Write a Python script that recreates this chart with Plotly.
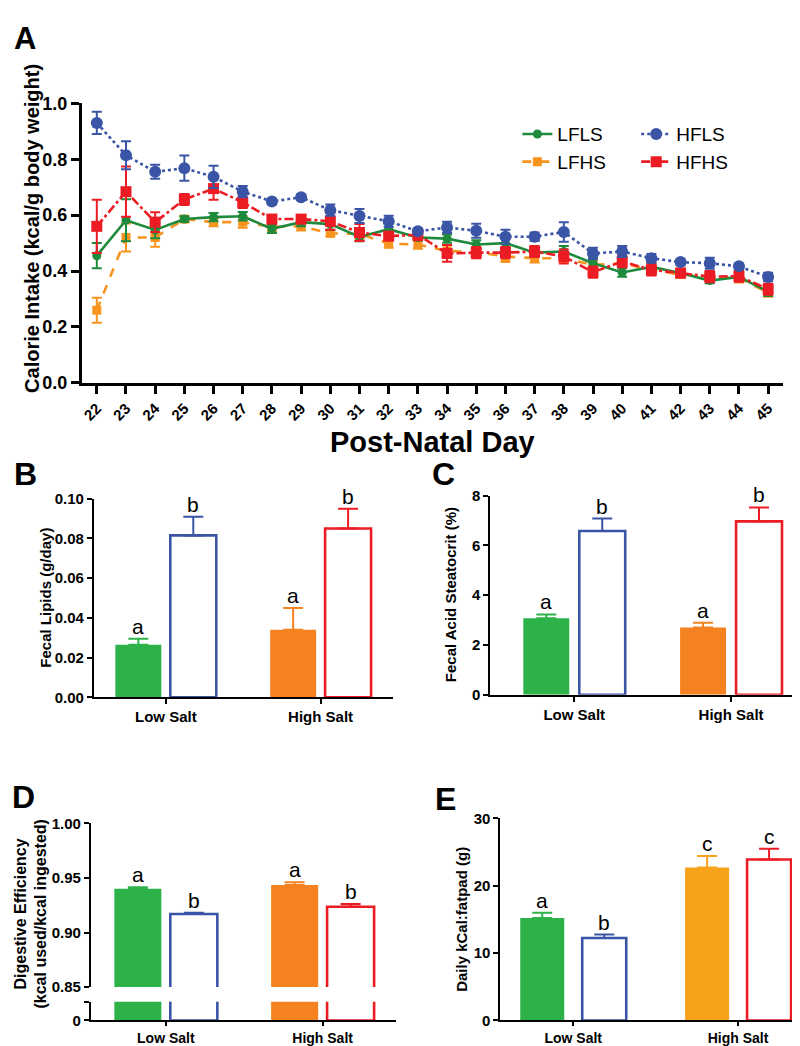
import plotly.graph_objects as go

# ---------------- data ----------------
days = list(range(22, 46))
lfls = [0.455, 0.582, 0.547, 0.586, 0.593, 0.596, 0.551, 0.575, 0.568, 0.522, 0.55, 0.52,
        0.516, 0.495, 0.50, 0.466, 0.47, 0.428, 0.395, 0.415, 0.393, 0.366, 0.379, 0.326]
lfls_err = [0.045, 0.075, 0.03, 0.01, 0.015, 0.015, 0.015, 0.015, 0.02, 0.015, 0.02, 0.01,
            0.015, 0.015, 0.02, 0.015, 0.02, 0.02, 0.015, 0.015, 0.01, 0.01, 0.01, 0.015]
lfhs = [0.26, 0.52, 0.52, 0.586, 0.575, 0.575, 0.558, 0.56, 0.535, 0.533, 0.498, 0.495,
        0.472, 0.468, 0.452, 0.446, 0.446, 0.422, 0.428, 0.404, 0.388, 0.38, 0.374, 0.323]
lfhs_err = [0.045, 0.05, 0.033, 0.01, 0.015, 0.02, 0.015, 0.015, 0.01, 0.02, 0.015, 0.015,
            0.02, 0.015, 0.02, 0.015, 0.015, 0.015, 0.015, 0.015, 0.01, 0.01, 0.015, 0.015]
hfls = [0.93, 0.814, 0.755, 0.768, 0.737, 0.684, 0.649, 0.664, 0.618, 0.597, 0.578, 0.542,
        0.556, 0.544, 0.523, 0.523, 0.54, 0.463, 0.47, 0.446, 0.432, 0.428, 0.417, 0.379]
hfls_err = [0.04, 0.05, 0.025, 0.045, 0.04, 0.02, 0.01, 0.01, 0.02, 0.025, 0.02, 0.01,
            0.02, 0.025, 0.025, 0.015, 0.035, 0.02, 0.02, 0.015, 0.01, 0.02, 0.01, 0.015]
hfhs = [0.56, 0.684, 0.575, 0.656, 0.695, 0.646, 0.586, 0.586, 0.578, 0.538, 0.525, 0.53,
        0.463, 0.466, 0.466, 0.47, 0.452, 0.396, 0.434, 0.404, 0.393, 0.38, 0.382, 0.335]
hfhs_err = [0.095, 0.09, 0.035, 0.02, 0.04, 0.02, 0.015, 0.015, 0.03, 0.03, 0.015, 0.02,
            0.03, 0.02, 0.02, 0.02, 0.025, 0.02, 0.02, 0.02, 0.015, 0.02, 0.02, 0.02]

salt_groups = ["Low Salt", "High Salt"]

# B: fecal lipids (g/day)
lipids_lf = [0.0265, 0.034]
lipids_lf_err = [0.003, 0.011]
lipids_hf = [0.0815, 0.085]
lipids_hf_err = [0.0094, 0.0099]
lipids_lf_sig = ["a", "a"]
lipids_hf_sig = ["b", "b"]

# C: fecal acid steatocrit (%)
steat_lf = [3.08, 2.70]
steat_lf_err = [0.15, 0.2]
steat_hf = [6.58, 6.97]
steat_hf_err = [0.5, 0.56]
steat_lf_sig = ["a", "a"]
steat_hf_sig = ["b", "b"]

# D: digestive efficiency
dig_lf = [0.940, 0.9435]
dig_lf_err = [0.0015, 0.0025]
dig_hf = [0.917, 0.9236]
dig_hf_err = [0.0012, 0.0024]
dig_lf_sig = ["a", "a"]
dig_hf_sig = ["b", "b"]

# E: daily kcal : fatpad (g)
kcal_lf = [15.2, 22.7]
kcal_lf_err = [0.8, 1.7]
kcal_hf = [12.25, 23.9]
kcal_hf_err = [0.5, 1.6]
kcal_lf_sig = ["a", "c"]
kcal_hf_sig = ["b", "c"]

# ---------------- style ----------------
W, H = 800, 1046
FONT = "Liberation Sans, Arial, Helvetica, sans-serif"
GREEN_L = "#1E8A3C"
GREEN_B = "#2DB24A"
ORANGE_L = "#F7941D"
ORANGE_B = "#F58220"
ORANGE_E = "#F8A11B"
BLUE = "#3A55A5"
RED = "#EC1C24"


def px_x(p):
    return p / W


def px_y(p):
    return 1 - p / H


fig = go.Figure()

# ---------------- panel A ----------------
series = [
    ("LFHS", lfhs, lfhs_err, ORANGE_L, "dash", "square", 9, "legend", 2),
    ("LFLS", lfls, lfls_err, GREEN_L, "solid", "circle", 9, "legend", 1),
    ("HFHS", hfhs, hfhs_err, RED, "dashdot", "square", 11, "legend2", 2),
    ("HFLS", hfls, hfls_err, BLUE, "dot", "circle", 12, "legend2", 1),
]
for name, vals, errs, col, dash, sym, size, leg, rank in series:
    fig.add_trace(go.Scatter(
        x=days, y=vals, name=name, mode="lines+markers",
        line=dict(color=col, width=2.6, dash=dash),
        marker=dict(color=col, symbol=sym, size=size),
        error_y=dict(type="data", array=errs, color=col, thickness=2, width=5),
        legend=leg, legendrank=rank, xaxis="x", yaxis="y", cliponaxis=False,
    ))

# ---------------- bar panels ----------------
def add_bars(xa, ya, lf, lf_err, hf, hf_err, lf_sig, hf_sig, lf_cols, hf_cols, w, g,
             errs=True, sig=True):
    for i, s in enumerate(salt_groups):
        for kind in ("lf", "hf"):
            if kind == "lf":
                v, e, lab, col = lf[i], lf_err[i], lf_sig[i], lf_cols[i]
                off = -w - g / 2
                marker = dict(color=col, line=dict(width=0))
            else:
                v, e, lab, col = hf[i], hf_err[i], hf_sig[i], hf_cols[i]
                off = g / 2
                marker = dict(color="white", line=dict(color=col, width=2.6))
            tr = dict(x=[s], y=[v], width=w, offset=off, marker=marker,
                      showlegend=False, xaxis=xa, yaxis=ya)
            if errs:
                tr["error_y"] = dict(type="data", symmetric=False, array=[e], arrayminus=[0],
                                     color=col, thickness=2, width=10)
            fig.add_trace(go.Bar(**tr))
            if sig:
                fig.add_annotation(x=i + off + w / 2, y=v + e, xref=xa, yref=ya,
                                   text=lab, showarrow=False, yanchor="bottom", yshift=-1,
                                   font=dict(family=FONT, size=21, color="black"))


add_bars("x2", "y2", lipids_lf, lipids_lf_err, lipids_hf, lipids_hf_err,
         lipids_lf_sig, lipids_hf_sig, [GREEN_B, ORANGE_B], [BLUE, RED], 0.297, 0.058)
add_bars("x3", "y3", steat_lf, steat_lf_err, steat_hf, steat_hf_err,
         steat_lf_sig, steat_hf_sig, [GREEN_B, ORANGE_B], [BLUE, RED], 0.293, 0.064)
add_bars("x4", "y4", dig_lf, dig_lf_err, dig_hf, dig_hf_err,
         dig_lf_sig, dig_hf_sig, [GREEN_B, ORANGE_B], [BLUE, RED], 0.30, 0.057)
add_bars("x5", "y5", dig_lf, dig_lf_err, dig_hf, dig_hf_err,
         dig_lf_sig, dig_hf_sig, [GREEN_B, ORANGE_B], [BLUE, RED], 0.30, 0.057,
         errs=False, sig=False)
add_bars("x6", "y6", kcal_lf, kcal_lf_err, kcal_hf, kcal_hf_err,
         kcal_lf_sig, kcal_hf_sig, [GREEN_B, ORANGE_E], [BLUE, RED], 0.267, 0.109)

# ---------------- axes ----------------
tick_small = dict(family=FONT, size=15, color="black", weight="bold")
tick_bottom = dict(family=FONT, size=14, color="black", weight="bold")
tick_a = dict(family=FONT, size=18, color="black", weight="bold")

common = dict(showgrid=False, zeroline=False, showline=True, linecolor="black",
              ticks="outside", tickcolor="black")

layout_axes = dict(
    xaxis=dict(domain=[px_x(73), px_x(775)], range=[21.49, 45.51], anchor="y",
               tickvals=days, ticktext=[str(d) for d in days], tickangle=-45,
               tickfont=dict(family=FONT, size=15, color="black", weight="bold"),
               linewidth=3, tickwidth=3, ticklen=8, **common),
    yaxis=dict(domain=[px_y(372), px_y(87)], range=[0, 1.0], anchor="x",
               tickvals=[0, 0.2, 0.4, 0.6, 0.8, 1.0], tickformat=".1f", tickfont=tick_a,
               linewidth=3, tickwidth=3, ticklen=8, **common),
    xaxis2=dict(domain=[px_x(85), px_x(384)], range=[-0.4645, 1.4645], anchor="y2",
                type="category", tickfont=tick_small, linewidth=2, tickwidth=2, ticklen=5, **common),
    yaxis2=dict(domain=[px_y(692.6), px_y(490)], range=[0, 0.10], anchor="x2",
                tickvals=[0, 0.02, 0.04, 0.06, 0.08, 0.10], tickformat=".2f", tickfont=tick_small,
                linewidth=2, tickwidth=2, ticklen=5, **common),
    xaxis3=dict(domain=[px_x(482), px_x(795)], range=[-0.535, 1.459], anchor="y3",
                type="category", tickfont=tick_small, linewidth=2, tickwidth=2, ticklen=5, **common),
    yaxis3=dict(domain=[px_y(690), px_y(487)], range=[0, 8], anchor="x3",
                tickvals=[0, 2, 4, 6, 8], tickfont=tick_small,
                linewidth=2, tickwidth=2, ticklen=5, **common),
    xaxis4=dict(domain=[px_x(82), px_x(387)], range=[-0.478, 1.465], anchor="y4",
                type="category", visible=False),
    yaxis4=dict(domain=[px_y(988), px_y(821)], range=[0.85, 1.0], anchor="x4",
                tickvals=[0.85, 0.90, 0.95, 1.00], tickformat=".2f", tickfont=tick_small,
                linewidth=2, tickwidth=2, ticklen=5, **common),
    xaxis5=dict(domain=[px_x(82), px_x(387)], range=[-0.478, 1.465], anchor="y5",
                type="category", tickfont=tick_bottom, linewidth=2, tickwidth=2, ticklen=4, **common),
    yaxis5=dict(domain=[px_y(1022), px_y(1003)], range=[0, 0.017], anchor="x5",
                tickvals=[0, 0.017], ticktext=["0", ""], tickfont=tick_small,
                linewidth=2, tickwidth=2, ticklen=5, **common),
    xaxis6=dict(domain=[px_x(492), px_x(798)], range=[-0.442, 1.412], anchor="y6",
                type="category", tickfont=tick_bottom, linewidth=2, tickwidth=2, ticklen=4, **common),
    yaxis6=dict(domain=[px_y(1022), px_y(816)], range=[0, 30], anchor="x6",
                tickvals=[0, 10, 20, 30], tickfont=tick_small,
                linewidth=2, tickwidth=2, ticklen=5, **common),
)

fig.update_layout(
    width=W, height=H, margin=dict(l=0, r=0, t=0, b=0),
    paper_bgcolor="white", plot_bgcolor="rgba(0,0,0,0)",
    font=dict(family=FONT, color="black"),
    barmode="overlay",
    legend=dict(x=px_x(509), y=px_y(99), xanchor="left", yanchor="top",
                font=dict(family=FONT, size=19, color="black"), bgcolor="rgba(0,0,0,0)",
                tracegroupgap=0, itemwidth=30),
    legend2=dict(x=px_x(628), y=px_y(99), xanchor="left", yanchor="top",
                 font=dict(family=FONT, size=19, color="black"), bgcolor="rgba(0,0,0,0)",
                 tracegroupgap=0, itemwidth=30),
    **layout_axes,
)

# ---------------- text ----------------
def txt(x, y, s, size, bold=True, angle=0, xanchor="center", yanchor="middle"):
    fig.add_annotation(x=px_x(x), y=px_y(y), xref="paper", yref="paper", text=s,
                       showarrow=False, textangle=angle, xanchor=xanchor, yanchor=yanchor,
                       font=dict(family=FONT, size=size, color="black",
                                 weight="bold" if bold else "normal"))


# panel letters
txt(3, 1, "A", 31, xanchor="left", yanchor="top")
txt(17, 465, "B", 32)
txt(435, 465, "C", 32)
txt(15, 794, "D", 32)
txt(437, 796, "E", 32)

# axis titles
txt(23, 214, "Calorie Intake (kcal/g body weight)", 20, angle=-90)
txt(424, 432, "Post-Natal Day", 29)
txt(37, 591, "Fecal Lipids (g/day)", 15, angle=-90)
txt(442, 588, "Fecal Acid Steatocrit (%)", 15, angle=-90)
txt(12, 913, "Digestive Efficiency", 16, angle=-90)
txt(32, 913, "(kcal used/kcal ingested)", 16, angle=-90)
txt(453, 919, "Daily kCal:fatpad (g)", 15, angle=-90)

fig.write_html("out.html")
